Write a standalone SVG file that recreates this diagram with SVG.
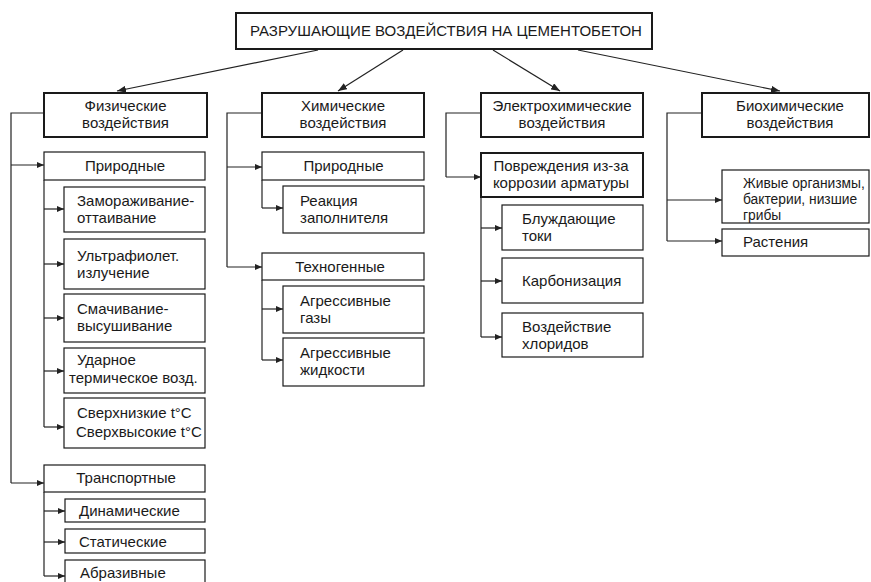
<svg xmlns="http://www.w3.org/2000/svg" width="871" height="582" viewBox="0 0 871 582">
<style>
rect{fill:#fff;stroke:#1a1a1a}
.k{stroke-width:2}
.s{stroke-width:1.2}
text{font-family:"Liberation Sans",Arial,sans-serif;font-size:15px;fill:#1a1a1a}
.c{text-anchor:middle}
.sm{font-size:13.8px}
.ln{fill:none;stroke:#222;stroke-width:1.2}
.a{marker-end:url(#ah)}
.d{marker-end:url(#ad)}
</style>
<defs>
<marker id="ah" markerUnits="userSpaceOnUse" markerWidth="7" markerHeight="6" refX="7" refY="3" orient="auto"><path d="M0,0 L7,3 L0,6 z" fill="#222"/></marker>
<marker id="ad" markerUnits="userSpaceOnUse" markerWidth="9" markerHeight="7" refX="9" refY="3.5" orient="auto"><path d="M0,0 L9,3.5 L0,7 z" fill="#222"/></marker>
</defs>
<g id="connectors">
<path class="ln d" d="M318,50 L117,91"/>
<path class="ln d" d="M403,50 L338,91"/>
<path class="ln d" d="M493,50 L560,91"/>
<path class="ln d" d="M578,50 L780,91"/>
<path class="ln" d="M44,113 H11 V483"/>
<path class="ln a" d="M11,165 H44"/>
<path class="ln a" d="M11,483 H44"/>
<path class="ln" d="M44,180 V427"/>
<path class="ln a" d="M44,209 H64"/>
<path class="ln a" d="M44,264 H64"/>
<path class="ln a" d="M44,318 H64"/>
<path class="ln a" d="M44,371 H64"/>
<path class="ln a" d="M44,427 H64"/>
<path class="ln" d="M44,492 V576"/>
<path class="ln a" d="M44,511 H65"/>
<path class="ln a" d="M44,542 H65"/>
<path class="ln a" d="M44,576 H65"/>
<path class="ln" d="M262,113 H227 V267"/>
<path class="ln a" d="M227,167 H262"/>
<path class="ln a" d="M227,267 H262"/>
<path class="ln" d="M262,180 V208"/>
<path class="ln a" d="M262,208 H283"/>
<path class="ln" d="M262,280 V360"/>
<path class="ln a" d="M262,309 H283"/>
<path class="ln a" d="M262,360 H283"/>
<path class="ln" d="M481,113 H446 V177"/>
<path class="ln a" d="M446,177 H481"/>
<path class="ln" d="M481,197 V337"/>
<path class="ln a" d="M481,228 H502"/>
<path class="ln a" d="M481,281 H502"/>
<path class="ln a" d="M481,337 H502"/>
<path class="ln" d="M702,113 H667 V241"/>
<path class="ln a" d="M667,200 H722"/>
<path class="ln a" d="M667,241 H722"/>
</g>
<g id="root"><rect class="k" x="236" y="13" width="416" height="36"/><text class="c" x="446" y="36">РАЗРУШАЮЩИЕ ВОЗДЕЙСТВИЯ НА ЦЕМЕНТОБЕТОН</text></g>
<g id="phys"><rect class="k" x="44" y="93" width="163" height="44"/><text class="c" x="125.5" y="111">Физические</text><text class="c" x="125.5" y="128">воздействия</text></g>
<g id="phys-nat"><rect class="s" x="44" y="152" width="161" height="28"/><text class="c" x="125" y="171">Природные</text></g>
<g id="freeze"><rect class="s" x="64" y="187" width="141" height="45"/><text x="77" y="206">Замораживание-</text><text x="77" y="223">оттаивание</text></g>
<g id="uv"><rect class="s" x="64" y="239" width="141" height="50"/><text x="77" y="261">Ультрафиолет.</text><text x="77" y="278">излучение</text></g>
<g id="wet"><rect class="s" x="64" y="294" width="141" height="48"/><text x="77" y="314">Смачивание-</text><text x="77" y="331">высушивание</text></g>
<g id="shock"><rect class="s" x="64" y="348" width="141" height="45"/><text x="77" y="365">Ударное</text><text x="69" y="383">термическое возд.</text></g>
<g id="temp"><rect class="s" x="64" y="398" width="141" height="50"/><text x="77" y="418">Сверхнизкие t°C</text><text x="76" y="437">Сверхвысокие t°C</text></g>
<g id="transp"><rect class="s" x="44" y="465" width="161" height="27"/><text class="c" x="126" y="483">Транспортные</text></g>
<g id="dyn"><rect class="s" x="65" y="499" width="140" height="23"/><text x="79" y="516">Динамические</text></g>
<g id="stat"><rect class="s" x="65" y="529" width="140" height="24"/><text x="79" y="547">Статические</text></g>
<g id="abr"><rect class="s" x="65" y="560" width="140" height="30"/><text x="80" y="578">Абразивные</text></g>
<g id="chem"><rect class="k" x="262" y="93" width="162" height="44"/><text class="c" x="343" y="111">Химические</text><text class="c" x="343" y="128">воздействия</text></g>
<g id="chem-nat"><rect class="s" x="262" y="152" width="162" height="28"/><text class="c" x="343.5" y="171">Природные</text></g>
<g id="aggr"><rect class="s" x="283" y="186" width="141" height="47"/><text x="300" y="206">Реакция</text><text x="300" y="223">заполнителя</text></g>
<g id="techno"><rect class="s" x="262" y="253" width="162" height="27"/><text class="c" x="340" y="272">Техногенные</text></g>
<g id="gas"><rect class="s" x="283" y="286" width="141" height="47"/><text x="300" y="306">Агрессивные</text><text x="300" y="323">газы</text></g>
<g id="liq"><rect class="s" x="283" y="338" width="141" height="48"/><text x="300" y="358">Агрессивные</text><text x="300" y="375">жидкости</text></g>
<g id="electro"><rect class="k" x="481" y="93" width="162" height="44"/><text class="c" x="562" y="111">Электрохимические</text><text class="c" x="562" y="128">воздействия</text></g>
<g id="corr"><rect class="k" x="481" y="153" width="162" height="44"/><text class="c" x="561" y="171">Повреждения из-за</text><text class="c" x="561" y="188">коррозии арматуры</text></g>
<g id="stray"><rect class="s" x="502" y="205" width="141" height="45"/><text x="522" y="224">Блуждающие</text><text x="522" y="241">токи</text></g>
<g id="carb"><rect class="s" x="502" y="258" width="141" height="45"/><text x="522" y="286">Карбонизация</text></g>
<g id="chlor"><rect class="s" x="502" y="313" width="141" height="44"/><text x="522" y="332">Воздействие</text><text x="522" y="349">хлоридов</text></g>
<g id="bio"><rect class="k" x="702" y="93" width="167" height="44"/><text class="c" x="790" y="111">Биохимические</text><text class="c" x="790" y="128">воздействия</text></g>
<g id="living"><rect class="s" x="722" y="170" width="147" height="53"/><text class="sm" x="743" y="188">Живые организмы,</text><text class="sm" x="743" y="204">бактерии, низшие</text><text class="sm" x="743" y="219.5">грибы</text></g>
<g id="plants"><rect class="s" x="722" y="229" width="147" height="27"/><text x="743" y="247">Растения</text></g>
</svg>
